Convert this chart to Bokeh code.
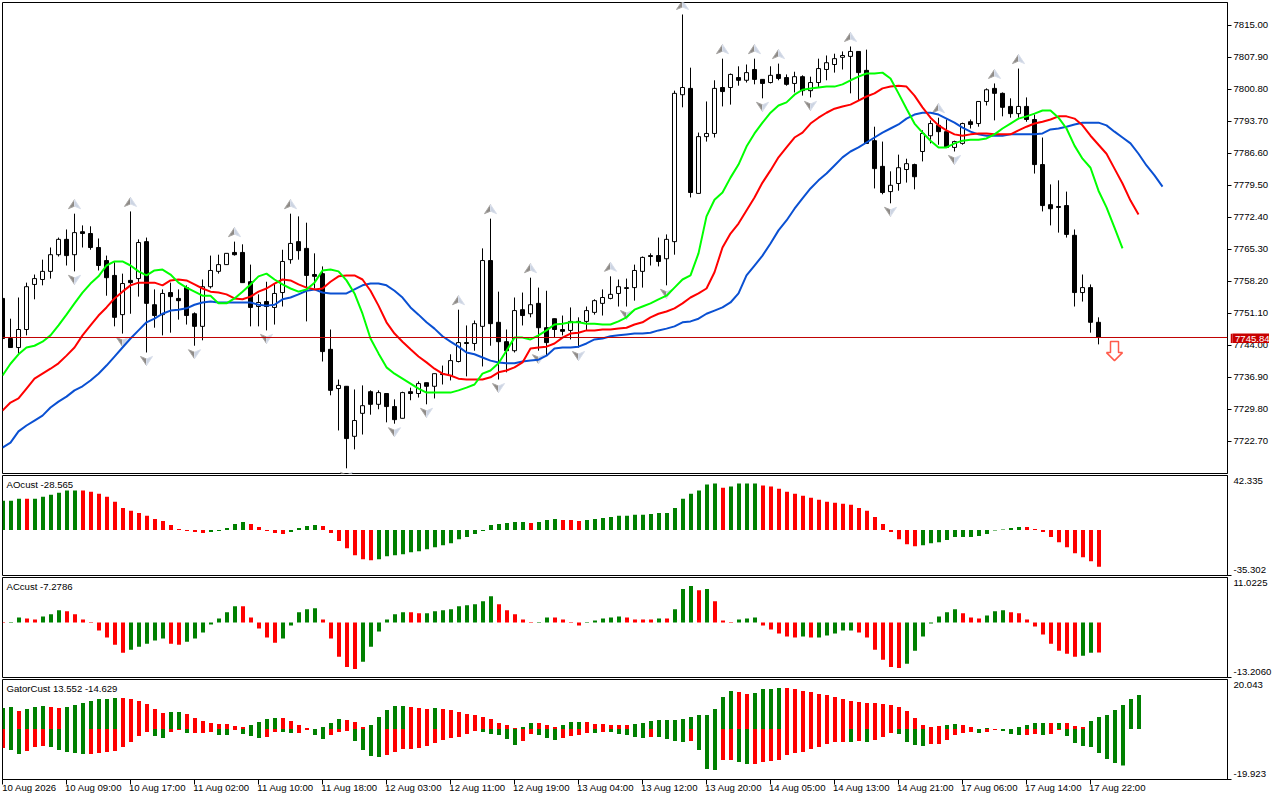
from bokeh.plotting import figure
from bokeh.layouts import column
from bokeh.models import Range1d, FixedTicker, Label, Span, LinearAxis
from bokeh.embed import file_html
from bokeh.resources import INLINE

highs = [7754.4,7749.9,7754.6,7757.9,7759.7,7763.0,7765.7,7767.9,7769.7,7773.2,7770.6,7770.4,7767.7,7763.9,7762.4,7759.9,7773.7,7767.5,7767.9,7756.4,
7756.4,7757.9,7756.4,7757.3,7751.3,7758.6,7763.9,7764.1,7764.4,7767.0,7766.4,7761.9,7755.3,7758.1,7757.7,7765.2,7773.2,7772.6,7771.2,7764.4,
7761.5,7747.5,7736.4,7734.9,7734.2,7735.1,7734.0,7734.0,7733.3,7732.0,7733.7,7734.6,7736.0,7735.7,7737.7,7739.5,7742.0,7751.9,7748.4,7749.5,
7765.5,7772.1,7755.9,7747.5,7754.6,7755.7,7759.0,7756.8,7756.1,7749.9,7750.6,7752.4,7750.2,7752.6,7754.2,7756.4,7759.3,7758.6,7758.8,7761.9,
7763.7,7764.4,7767.9,7768.6,7800.5,7817.4,7805.6,7791.2,7798.1,7802.8,7807.6,7804.3,7805.9,7806.3,7807.6,7803.0,7805.9,7806.5,7804.1,7804.7,
7803.9,7803.6,7807.6,7808.3,7808.7,7809.2,7810.3,7809.2,7809.6,7792.5,7789.2,7782.6,7786.3,7785.4,7784.3,7791.7,7793.9,7794.5,7794.1,7789.4,
7793.4,7794.1,7798.1,7801.0,7802.1,7800.1,7798.8,7805.4,7799.0,7795.2,7790.1,7779.7,7780.6,7778.1,7769.7,7759.7,7757.5,7750.2]
lows = [7745.5,7743.5,7742.2,7746.2,7754.2,7757.3,7758.8,7763.7,7761.7,7760.4,7765.7,7765.2,7760.6,7755.0,7748.2,7746.6,7751.0,7754.8,7742.4,7747.9,
7746.2,7746.8,7749.7,7748.6,7743.9,7745.1,7756.6,7759.9,7761.9,7763.9,7757.9,7748.2,7748.2,7747.3,7748.6,7752.6,7762.1,7763.0,7749.3,7756.6,
7740.4,7732.9,7725.1,7716.7,7720.9,7724.2,7728.6,7729.8,7726.9,7726.6,7727.8,7731.8,7732.4,7730.9,7732.2,7735.3,7736.2,7740.2,7737.1,7742.8,
7739.3,7743.9,7736.4,7738.0,7742.4,7748.4,7750.2,7742.8,7741.7,7745.7,7746.2,7745.3,7743.5,7747.3,7750.8,7750.6,7754.2,7752.6,7752.6,7753.9,
7756.8,7761.7,7761.5,7757.3,7764.1,7796.8,7776.8,7777.7,7789.2,7790.1,7797.0,7797.4,7801.6,7802.3,7801.9,7798.8,7802.1,7802.8,7801.6,7800.1,
7799.4,7799.0,7801.2,7802.8,7804.5,7805.2,7799.9,7798.3,7788.8,7778.8,7777.5,7775.5,7778.3,7780.1,7778.6,7784.8,7788.8,7788.5,7787.9,7787.0,
7788.5,7792.1,7792.5,7797.2,7793.9,7794.8,7794.5,7794.5,7793.6,7782.1,7773.7,7770.6,7769.0,7767.9,7752.6,7753.7,7746.8,7744.2]
opens = [7754.4,7745.5,7743.5,7747.5,7757.5,7758.6,7760.4,7764.1,7767.5,7764.1,7769.2,7768.8,7765.7,7762.8,7759.5,7750.8,7758.4,7758.8,7767.0,7753.0,
7750.8,7755.7,7754.4,7756.8,7751.0,7748.2,7757.0,7760.4,7761.9,7764.6,7764.6,7758.1,7752.6,7753.7,7752.4,7755.7,7763.0,7767.0,7765.5,7759.7,
7759.9,7743.1,7734.4,7734.9,7723.8,7728.9,7733.7,7730.9,7733.3,7730.4,7727.8,7733.7,7733.3,7735.7,7734.9,7737.7,7737.3,7740.4,7744.6,7744.4,
7748.2,7762.8,7749.1,7744.8,7742.8,7751.9,7751.0,7753.3,7747.9,7749.9,7747.5,7747.3,7749.3,7749.3,7751.3,7753.3,7754.4,7755.5,7756.6,7756.8,
7760.4,7763.9,7763.9,7763.2,7767.0,7799.6,7801.0,7777.7,7790.3,7791.0,7801.2,7801.2,7803.4,7802.8,7805.2,7803.0,7802.3,7804.1,7803.4,7802.1,
7803.6,7800.5,7802.3,7805.2,7806.3,7807.9,7808.1,7809.2,7805.0,7789.4,7783.7,7778.1,7779.9,7783.0,7784.1,7787.0,7790.5,7792.8,7791.4,7787.9,
7788.8,7793.6,7793.2,7798.1,7801.0,7799.9,7797.0,7795.4,7797.0,7794.1,7784.1,7775.2,7774.8,7775.0,7768.4,7755.7,7756.8,7749.1]
closes = [7745.5,7743.5,7747.5,7757.0,7758.8,7760.4,7764.1,7767.5,7763.9,7769.0,7768.8,7765.7,7761.7,7759.0,7750.2,7757.7,7757.9,7766.8,7753.3,7750.6,
7755.5,7754.8,7753.9,7750.6,7748.2,7757.0,7760.6,7761.9,7764.4,7764.1,7757.9,7752.4,7753.5,7752.6,7755.5,7762.6,7766.6,7765.0,7759.5,7759.3,
7742.6,7734.0,7735.1,7723.3,7727.3,7730.6,7730.9,7733.5,7730.4,7727.5,7733.5,7733.3,7735.5,7734.9,7737.7,7737.5,7740.6,7744.6,7744.4,7748.8,
7762.8,7748.8,7744.8,7742.8,7751.7,7750.6,7753.0,7747.9,7744.6,7747.5,7747.1,7749.3,7749.1,7751.7,7753.9,7754.6,7755.3,7757.0,7756.8,7760.6,
7763.5,7763.7,7762.6,7767.5,7799.9,7801.2,7777.9,7790.3,7791.0,7801.0,7800.3,7804.1,7802.8,7804.5,7803.0,7802.1,7803.9,7803.2,7801.9,7803.6,
7800.5,7802.3,7805.4,7806.7,7807.6,7808.3,7809.2,7804.5,7788.8,7783.2,7777.9,7779.5,7783.4,7784.3,7781.4,7791.0,7793.2,7791.4,7787.9,7789.2,
7793.2,7793.0,7798.1,7800.7,7799.9,7796.8,7795.4,7797.0,7794.1,7784.1,7775.0,7774.3,7774.6,7768.6,7755.7,7756.8,7749.1,7745.84]

green_line = [7737.3,7739.9,7742.0,7743.5,7743.9,7744.8,7746.2,7748.4,7750.8,7753.3,7755.7,7757.7,7759.3,7761.7,7762.6,7762.6,7761.7,7760.4,7759.5,7760.6,
7760.8,7759.7,7757.9,7756.8,7755.9,7755.0,7755.0,7753.3,7753.3,7754.4,7755.9,7757.5,7759.3,7759.9,7758.6,7757.5,7756.6,7755.9,7756.4,7757.9,
7760.6,7760.8,7760.4,7758.4,7755.5,7751.0,7745.5,7742.2,7739.1,7737.7,7736.6,7735.5,7734.4,7733.5,7733.5,7733.5,7733.5,7734.0,7734.6,7735.3,
7737.7,7738.4,7740.0,7742.8,7745.7,7745.7,7745.3,7746.2,7747.3,7748.6,7748.8,7749.1,7749.1,7748.8,7748.8,7748.6,7748.6,7749.3,7750.2,7751.9,
7752.6,7753.3,7754.2,7755.0,7756.8,7758.6,7759.5,7764.4,7772.6,7776.3,7777.9,7781.2,7784.1,7788.1,7791.0,7793.4,7795.6,7797.2,7797.9,7799.6,
7800.7,7801.0,7801.2,7801.4,7801.4,7801.9,7802.8,7803.6,7804.3,7804.3,7804.5,7803.2,7799.9,7796.5,7793.2,7791.2,7789.4,7787.9,7787.9,7788.8,
7789.4,7789.6,7789.6,7789.9,7790.8,7792.1,7793.2,7794.3,7794.8,7795.4,7796.1,7796.1,7794.5,7792.1,7788.3,7785.4,7783.4,7778.3,7774.6,7770.1,7765.5]
red_line = [7729.5,7731.3,7732.2,7734.4,7736.6,7737.7,7738.8,7740.0,7741.7,7743.5,7746.2,7748.4,7750.6,7752.4,7754.4,7755.9,7757.3,7757.9,7757.9,7757.9,
7757.3,7758.4,7758.6,7758.4,7757.5,7756.6,7755.9,7755.7,7755.3,7754.4,7754.2,7754.8,7755.9,7756.6,7757.7,7758.6,7758.4,7757.5,7756.8,7756.4,
7756.6,7758.1,7759.3,7759.5,7759.5,7758.6,7756.1,7752.8,7749.1,7746.6,7744.8,7743.1,7741.5,7740.2,7738.8,7737.7,7737.3,7736.6,7736.4,7736.4,
7736.4,7736.9,7738.0,7738.4,7739.1,7740.2,7743.3,7743.5,7743.7,7744.4,7745.7,7746.6,7746.8,7747.3,7747.3,7747.5,7747.5,7747.7,7747.9,7748.6,
7749.1,7750.2,7751.0,7751.5,7752.2,7753.3,7754.6,7755.5,7756.6,7760.2,7765.7,7768.8,7771.0,7773.9,7776.8,7780.1,7782.8,7785.7,7787.9,7790.1,
7791.2,7793.2,7794.5,7795.6,7796.5,7797.0,7797.4,7798.3,7799.2,7799.9,7801.0,7801.4,7801.6,7801.4,7799.4,7796.8,7794.5,7792.8,7791.7,7790.8,
7790.5,7790.8,7791.0,7791.0,7790.8,7790.8,7790.8,7791.7,7792.5,7793.2,7793.6,7794.1,7794.8,7794.8,7794.3,7792.8,7790.5,7788.5,7786.5,7783.2,7779.9,7776.1,7773.0]
blue_line = [7721.3,7722.4,7724.9,7726.2,7727.3,7728.4,7730.2,7731.5,7732.6,7734.0,7734.9,7736.2,7737.7,7739.5,7741.5,7743.5,7745.5,7747.3,7749.1,7749.9,
7751.0,7751.7,7751.9,7752.2,7753.0,7753.5,7753.7,7753.5,7753.5,7753.5,7753.5,7753.5,7753.0,7752.8,7753.0,7754.2,7754.6,7755.3,7756.1,7756.4,
7755.7,7755.5,7755.5,7755.5,7756.4,7757.3,7757.7,7757.7,7757.3,7756.1,7754.6,7752.4,7750.8,7749.1,7747.7,7746.0,7744.8,7743.7,7742.4,7742.0,
7741.3,7740.6,7740.2,7740.0,7740.0,7740.4,7740.6,7740.8,7741.7,7743.3,7743.5,7743.5,7743.7,7744.4,7745.3,7745.5,7746.0,7746.2,7746.4,7746.6,
7746.6,7746.8,7747.3,7747.7,7748.2,7749.1,7749.3,7749.9,7751.0,7751.7,7752.4,7753.5,7755.5,7759.5,7761.7,7763.9,7766.6,7769.5,7771.7,7774.3,
7776.6,7778.8,7780.6,7782.1,7783.9,7785.7,7787.0,7787.9,7789.0,7790.1,7791.2,7792.1,7793.0,7794.3,7795.2,7795.6,7795.6,7795.2,7794.3,7793.4,
7792.3,7791.4,7790.8,7790.5,7790.5,7790.5,7790.8,7790.8,7790.8,7790.8,7791.0,7791.9,7792.1,7792.5,7793.0,7793.4,7793.4,7793.4,7792.8,7791.4,7790.1,7788.8,7786.5,7783.9,7781.7,7779.2]

fractal_up_bars = [9,16,29,36,57,61,66,76,85,90,94,97,106,117,124,127]
fractal_down_bars = [9,15,18,24,33,43,49,53,62,67,72,78,83,95,101,111,119]

ao_values = [22.7,22.7,24.3,24.3,24.3,25.9,27.4,29.0,30.6,30.6,30.6,29.8,28.2,25.9,22.0,17.2,14.9,13.3,11.0,8.6,7.1,3.9,0.8,-0.8,-1.6,-2.4,-1.6,-0.8,1.6,4.7,6.3,4.7,2.4,-0.8,-2.4,-3.1,-1.6,1.6,3.1,3.9,
3.1,-2.4,-8.6,-14.1,-19.6,-22.7,-23.5,-22.7,-20.4,-19.6,-18.8,-17.2,-16.5,-14.9,-13.3,-11.8,-10.2,-7.1,-5.5,-3.1,-0.8,3.9,4.7,5.5,6.3,6.3,5.5,6.3,7.8,8.6,7.8,7.8,7.1,7.8,8.6,9.4,10.2,11.0,11.0,11.8,
11.8,12.5,13.3,13.3,17.2,24.3,28.2,30.6,35.3,36.1,32.9,33.7,36.1,36.1,36.1,34.5,33.7,32.1,29.8,28.2,26.7,25.1,23.5,22.0,21.2,20.4,19.6,17.2,14.9,10.2,4.7,-1.6,-7.1,-11.0,-12.5,-11.8,-10.2,-9.4,-7.8,-5.5,
-5.5,-5.5,-4.7,-3.1,-0.3,0.5,1.6,2.4,2.4,0.8,-1.6,-5.5,-9.4,-13.3,-18.0,-21.2,-24.3,-28.565]
ao_colors = "GGGR"+"G"*6+"R"*16+"G"*5+"R"*5+"G"*4+"R"*7+"G"*19+"R"+"GGG"+"RRR"+"G"*17+"R"+"G"*4+"R"*20+"G"*13+"R"*10

ac_values = [0.12,0.12,1.22,0.98,0.73,1.47,1.96,2.94,2.69,1.96,0.73,-0.12,-1.96,-3.67,-5.38,-7.34,-6.61,-5.87,-5.14,-4.40,-3.92,-5.14,-5.38,-4.65,-3.92,-2.45,-0.49,0.98,2.45,3.92,3.92,1.22,-1.47,-3.67,-4.89,-3.92,-0.73,2.45,3.18,3.43,
0.73,-3.92,-8.32,-10.77,-11.26,-9.54,-5.87,-2.20,0.73,1.96,2.45,2.45,2.20,2.20,2.69,2.94,3.18,3.92,4.16,4.40,5.14,6.36,4.40,2.94,1.96,0.73,-0.12,0.12,1.22,1.22,0.73,-0.12,-0.73,-0.12,0.49,0.98,1.22,1.47,1.22,0.73,
0.73,0.73,0.98,0.98,3.18,8.08,8.81,7.83,8.08,5.14,0.49,-0.12,0.73,0.98,1.22,-0.73,-1.71,-2.69,-3.43,-3.67,-3.43,-3.67,-3.67,-3.18,-2.69,-1.96,-1.96,-2.45,-3.67,-6.61,-9.05,-10.77,-11.01,-10.03,-6.85,-3.43,-0.24,1.47,2.45,3.18,
2.20,1.22,0.98,1.71,2.69,2.94,2.45,2.20,0.73,-0.98,-2.94,-5.14,-6.85,-7.59,-8.32,-8.08,-7.34,-7.2786]
ac_colors = ("RGGRRGGGRRRRRRRR"+"GGGGG"+"RR"+"GGGGGGG"+"RRRRR"+"GGGGG"
             +"RRRRR"+"GGGGGG"+"RR"+"GGGGGGGGG"+"RRRRR"+"GG"+"RRRR"+"GGGGG"+"RR"
             +"RRGRGGGRGRRRGGGRRRRRGRGGGGGRRRRRRGGGGGGG"
             +"RRR"+"GGG"+"RRRRRRRRR"+"GG"+"R")

gator_up = [8.4,8.8,7.2,8.0,8.8,9.2,8.8,8.4,8.8,9.6,10.4,11.2,12.0,12.0,12.4,12.4,12.0,11.2,10.0,8.0,6.4,6.8,6.8,6.0,4.4,3.2,2.4,2.0,2.0,1.2,0.8,1.6,2.8,4.0,4.4,4.4,3.2,1.6,0.4,0.0,
0.8,2.4,4.0,3.6,2.8,0.8,1.6,4.8,7.6,9.2,9.2,8.8,8.4,8.0,8.4,8.0,7.6,6.8,6.0,5.6,4.8,4.0,2.4,1.6,0.4,0.8,2.4,2.4,1.6,0.8,1.6,2.8,2.8,2.8,2.0,2.0,1.6,1.6,1.6,2.0,
2.4,3.2,3.6,3.6,3.6,4.0,4.8,5.6,5.6,8.0,12.8,15.2,14.8,14.0,14.4,16.0,16.0,16.4,16.4,16.0,15.2,14.8,14.0,13.6,12.8,12.0,11.2,10.8,10.4,10.4,10.0,9.6,8.8,7.2,4.4,1.6,0.8,1.2,1.6,2.0,
1.6,0.8,0.0,0.4,0.0,0.0,0.0,0.8,1.6,2.4,2.4,2.4,2.4,2.4,1.2,0.8,3.2,4.8,5.6,7.6,9.6,12.0,13.552]
gator_up_colors = ("GGRGGGRR"+"G"*7+"R"*6+"GG"+"R"*8+"G"*4+"R"*4+"G"
 +"GGG"+"RRR"+"G"*5+"RRR"+"G"+"R"*10+"GG"+"RRR"+"GGG"+"R"*6+"G"
 +"G"*12+"RR"+"G"*4+"R"*20+"GG"
 +"RR"+"GG"+"R"+"G"*6+"R"+"G"+"RRR"+"G"*7)
gator_down = [-7.6,-8.4,-10.0,-8.8,-7.2,-6.8,-7.2,-8.4,-9.2,-9.6,-10.0,-10.0,-9.6,-9.2,-8.8,-7.2,-5.2,-2.8,-1.2,-2.8,-3.6,-1.2,-0.4,-1.6,-1.6,-1.6,-1.2,-2.4,-2.4,-0.4,-2.0,-2.8,-3.6,-3.2,-1.2,-1.2,-1.6,-1.6,-0.4,-2.4,
-4.0,-2.4,-1.2,-0.8,-4.8,-8.4,-10.8,-11.2,-10.4,-9.2,-8.0,-8.0,-7.6,-6.8,-5.6,-4.4,-3.6,-3.2,-2.0,-0.8,-1.2,-2.0,-2.4,-4.0,-6.4,-4.8,-2.0,-2.4,-3.6,-4.4,-3.6,-2.8,-2.4,-1.6,-1.6,-1.2,-1.2,-2.0,-2.4,-3.2,
-3.6,-3.2,-3.2,-4.0,-4.8,-5.2,-4.8,-8.4,-16.0,-16.4,-12.4,-12.4,-13.2,-14.0,-14.0,-13.2,-12.8,-12.4,-10.4,-9.6,-9.2,-8.0,-7.2,-6.0,-5.2,-5.2,-5.2,-4.8,-5.2,-4.4,-3.2,-1.6,-2.0,-5.2,-6.4,-6.8,-6.0,-6.0,-4.4,-2.4,
-1.6,-1.2,-1.6,-1.2,-0.4,-0.8,-2.0,-2.4,-2.4,-2.0,-2.4,-2.0,-0.4,-2.8,-5.6,-6.8,-7.2,-9.6,-12.0,-13.6,-14.629]
gator_down_colors = ("RGGRRRGGGGGRRRRRRRRGGRRGRRRGGRGGGRRGGRRG"
 +"GRRRGGGGRRRRRRRRRRRRGGGGGRRGGGRRRRGRGGGG"
 +"GRGGGGRGGGRRGGRRRRRRRRRRRRGRGRRRGGGGRRRR"
 +"RRGRRGGGRRGRRGGGGGGGG")

time_labels = ["10 Aug 2026","10 Aug 09:00","10 Aug 17:00","11 Aug 02:00","11 Aug 10:00","11 Aug 18:00","12 Aug 03:00","12 Aug 11:00","12 Aug 19:00",
 "13 Aug 04:00","13 Aug 12:00","13 Aug 20:00","14 Aug 05:00","14 Aug 13:00","14 Aug 21:00","17 Aug 06:00","17 Aug 14:00","17 Aug 22:00"]
time_label_bars = [0,8,16,24,32,40,48,56,64,72,80,88,96,104,112,120,128,136]
price_ticks = [7815.00,7807.90,7800.80,7793.70,7786.60,7779.50,7772.40,7765.30,7758.20,7751.10,7744.00,7736.90,7729.80,7722.70]
bid_price = 7745.84
signal_bar = 139
signal_price = 7740.6

FONT = "Liberation Sans"
FS = "9.6px"
GREEN, RED = "#008000", "#ff0000"
BAR_PX = 8.0
FRAME_W = 1225

def make_fig(h, y0, y1, x0, top, bottom):
    p = figure(width=1280, height=h, output_backend="svg", toolbar_location=None,
               x_range=Range1d(x0, x0 + FRAME_W / BAR_PX), y_range=Range1d(y0, y1),
               x_axis_location=None, y_axis_location="right", tools="",
               min_border_left=2, min_border_right=53, min_border_top=top, min_border_bottom=bottom)
    p.background_fill_color = "white"
    p.border_fill_color = "white"
    p.grid.visible = False
    p.outline_line_color = "black"
    p.outline_line_width = 1
    ax = p.yaxis[0]
    ax.axis_line_color = "black"
    ax.major_tick_line_color = "black"
    ax.major_tick_in = 0
    ax.major_tick_out = 4
    ax.minor_tick_line_color = None
    ax.major_label_text_font = FONT
    ax.major_label_text_font_size = FS
    ax.major_label_text_color = "black"
    ax.major_label_standoff = 2
    return p

def text(p, s, x, y, color="black"):
    p.add_layout(Label(x=x, y=y, x_units="screen", y_units="screen", text=s, text_font=FONT, text_font_size=FS,
                       text_color=color, text_baseline="middle", text_align="left"))

def side_labels(p, lo_text, hi_text, lo_px, hi_px):
    """Tick mark at the scale minimum, and the two scale texts set just inside the panel's ends."""
    y0, y1 = p.y_range.start, p.y_range.end
    ax = p.yaxis[0]
    ax.ticker = FixedTicker(ticks=[y0])
    ax.major_label_overrides = {y0: ""}
    ax.major_label_text_font_size = "0px"
    ax.major_label_standoff = 0
    lo = y0 + lo_px / 100 * (y1 - y0)
    hi = y1 - hi_px / 100 * (y1 - y0)
    lab = LinearAxis(ticker=FixedTicker(ticks=[lo, hi]), axis_line_color=None, major_tick_line_color=None,
                     minor_tick_line_color=None, major_tick_in=0, major_tick_out=0, major_label_standoff=2,
                     major_label_text_font=FONT, major_label_text_font_size=FS, major_label_text_color="black",
                     major_label_overrides={lo: lo_text, hi: hi_text})
    p.add_layout(lab, "right")

# ---- main price panel
main_px = 0.22188  # price per screen pixel
main = make_fig(475, 7715.55, 7820.06, 0, 2, 2)
ax = main.yaxis[0]
ax.ticker = FixedTicker(ticks=price_ticks)
ax.major_label_overrides = {v: f"{v:.2f}" for v in price_ticks}

def arrow_parts(bar, center, sign):
    hw = 6 / BAR_PX
    tip = center + sign * 5 * main_px
    base = center - sign * 4 * main_px
    notch = center - sign * 1.5 * main_px
    return ([bar, bar - hw, bar], [tip, base, notch]), ([bar, bar + hw, bar], [tip, base, notch])

lx, ly, rx, ry = [], [], [], []
for b in fractal_up_bars:
    l, r = arrow_parts(b, highs[b] + 9 * main_px, 1)
    lx.append(l[0]); ly.append(l[1]); rx.append(r[0]); ry.append(r[1])
for b in fractal_down_bars:
    l, r = arrow_parts(b, lows[b] - 8 * main_px, -1)
    lx.append(l[0]); ly.append(l[1]); rx.append(r[0]); ry.append(r[1])
main.patches(lx, ly, fill_color="#8e8a86", line_color="#a8a6a4", line_width=1)
main.patches(rx, ry, fill_color="#ccd4e2", line_color="#d8deea", line_width=1)

bars = list(range(len(opens)))
main.segment(bars, highs, bars, lows, line_color="black", line_width=1)
tops = [max(o, c) for o, c in zip(opens, closes)]
bots = [min(o, c) for o, c in zip(opens, closes)]
fills = ["white" if c > o else "black" for o, c in zip(opens, closes)]
main.vbar(x=bars, top=tops, bottom=bots, width=4 / BAR_PX, fill_color=fills, line_color="black", line_width=1)

main.line(list(range(len(blue_line))), blue_line, line_color="#0a50d2", line_width=2)
main.line(list(range(len(red_line))), red_line, line_color="#ff0000", line_width=2)
main.line(list(range(len(green_line))), green_line, line_color="#00ff00", line_width=2)
main.add_layout(Span(location=bid_price - 0.5 * main_px, dimension="width", line_color="#c00000", line_width=1))

# sell signal arrow
s_w, s_h = 4 / BAR_PX, 8 / BAR_PX
main.patch([signal_bar - s_w, signal_bar + s_w, signal_bar + s_w, signal_bar + s_h, signal_bar, signal_bar - s_h, signal_bar - s_w],
           [signal_price + 19 * main_px, signal_price + 19 * main_px, signal_price + 8 * main_px, signal_price + 8 * main_px,
            signal_price, signal_price + 8 * main_px, signal_price + 8 * main_px],
           fill_color="white", line_color="#ff5a4a", line_width=1.5)

# ---- indicator panels
BAR_X0 = -0.0625
def hist_panel(h, y0, y1, values, colors, title, lo_text, hi_text, lo_px, hi_px):
    p = make_fig(h, y0, y1, BAR_X0, 0, 2)
    side_labels(p, lo_text, hi_text, lo_px, hi_px)
    x = list(range(len(values)))
    p.vbar(x=x, top=[max(v, 0) for v in values], bottom=[min(v, 0) for v in values], width=4 / BAR_PX,
           fill_color=[GREEN if c == "G" else RED for c in colors], line_color=None)
    text(p, title, 4, 91)
    return p

ao = hist_panel(102, -35.302, 42.335, ao_values, ao_colors, "AOcust -28.565", "-35.302", "42.335", 6, 5.7)
ac = hist_panel(102, -13.34, 10.89, ac_values, ac_colors, "ACcust -7.2786", "-13.2060", "11.0225", 5.3, 5.7)

gator = make_fig(121, -20.181, 19.785, BAR_X0, 0, 21)
side_labels(gator, "-19.923", "20.043", 5.3, 5.3)
gx_up = list(range(len(gator_up)))
gx_dn = list(range(len(gator_down)))
gator.vbar(x=gx_up, top=gator_up, bottom=0, width=4 / BAR_PX, fill_color=[GREEN if c == "G" else RED for c in gator_up_colors], line_color=None)
gator.vbar(x=gx_dn, top=0, bottom=gator_down, width=4 / BAR_PX, fill_color=[GREEN if c == "G" else RED for c in gator_down_colors], line_color=None)
text(gator, "GatorCust 13.552 -14.629", 4, 91)

tick_pos = [b - 0.0625 for b in time_label_bars]
xax = LinearAxis(ticker=FixedTicker(ticks=tick_pos), axis_line_color="black", major_tick_line_color="black",
                 major_tick_in=0, major_tick_out=5, minor_tick_line_color=None, major_label_text_font_size="0px",
                 major_label_standoff=0, major_label_overrides={b: "" for b in tick_pos})
gator.add_layout(xax, "below")
lab_pos = [b + 26.5 / BAR_PX for b in time_label_bars]
xlab = LinearAxis(ticker=FixedTicker(ticks=lab_pos), axis_line_color=None, major_tick_line_color=None, minor_tick_line_color=None,
                  major_tick_in=0, major_tick_out=0, major_label_standoff=-3, major_label_text_font=FONT,
                  major_label_text_font_size=FS, major_label_text_color="black",
                  major_label_overrides=dict(zip(lab_pos, time_labels)))
gator.add_layout(xlab, "below")

# ---- current-price tag: a small panel of its own laid over the price scale
tag = figure(frame_width=39, frame_height=11, output_backend="svg", toolbar_location=None, tools="",
             x_range=Range1d(0, 39), y_range=Range1d(0, 11), x_axis_location=None, y_axis_location=None,
             min_border=0, min_border_left=0, min_border_right=0, min_border_top=0, min_border_bottom=0,
             styles={"position": "absolute", "left": "1230px", "top": "332px"})
tag.background_fill_color = "#c80000"
tag.border_fill_color = "#c80000"
tag.outline_line_color = None
tag.grid.visible = False
tag.add_layout(Label(x=2.5, y=5.5, x_units="screen", y_units="screen", text=f"{bid_price:.2f}", text_font=FONT,
                     text_font_size=FS, text_color="white", text_baseline="middle", text_align="left"))

layout = column(main, ao, ac, gator, tag, spacing=0, styles={"position": "absolute", "left": "0px", "top": "0px"})
open("out.html", "w").write(file_html(layout, INLINE))
